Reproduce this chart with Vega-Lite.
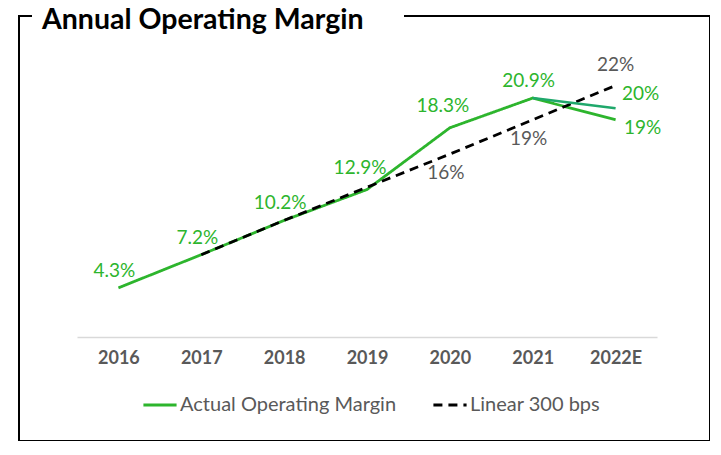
{
  "$schema": "https://vega.github.io/schema/vega-lite/v6.json",
  "autosize": {"type": "none"},
  "padding": {"left": 19, "top": 16, "right": 0, "bottom": 0},
  "width": 691,
  "height": 425,
  "background": "white",
  "title": {
    "text": "Annual Operating Margin",
    "anchor": "start",
    "frame": "group",
    "font": "Lato",
    "fontSize": 28.5,
    "fontWeight": "bold",
    "color": "black",
    "baseline": "alphabetic",
    "offset": 0,
    "dx": 23,
    "dy": 41
  },
  "config": {
    "font": "Lato",
    "view": {"stroke": "black", "strokeWidth": 2, "strokeDash": [13, 372, 3000, 0]}
  },
  "datasets": {
    "main": [
      {"year": "2016", "value": 4.3, "series": "Actual Operating Margin", "label": "4.3%"},
      {"year": "2017", "value": 7.2, "series": "Actual Operating Margin", "label": "7.2%"},
      {"year": "2018", "value": 10.2, "series": "Actual Operating Margin", "label": "10.2%"},
      {"year": "2019", "value": 12.9, "series": "Actual Operating Margin", "label": "12.9%"},
      {"year": "2020", "value": 18.3, "series": "Actual Operating Margin", "label": "18.3%"},
      {"year": "2021", "value": 20.9, "series": "Actual Operating Margin", "label": "20.9%"},
      {"year": "2022E", "value": 19, "series": "Actual Operating Margin", "label": "19%"},
      {"year": "2017", "value": 7.2, "series": "Linear 300 bps", "label": ""},
      {"year": "2018", "value": 10.2, "series": "Linear 300 bps", "label": ""},
      {"year": "2019", "value": 13.1, "series": "Linear 300 bps", "label": ""},
      {"year": "2020", "value": 16, "series": "Linear 300 bps", "label": "16%"},
      {"year": "2021", "value": 19, "series": "Linear 300 bps", "label": "19%"},
      {"year": "2022E", "value": 22, "series": "Linear 300 bps", "label": "22%"}
    ],
    "branch": [
      {"year": "2021", "value": 20.9, "label": ""},
      {"year": "2022E", "value": 20, "label": "20%"}
    ]
  },
  "encoding": {
    "x": {
      "field": "year",
      "type": "ordinal",
      "scale": {
        "type": "point",
        "domain": ["2016", "2017", "2018", "2019", "2020", "2021", "2022E"],
        "range": [58, 638],
        "padding": 0.5
      },
      "axis": {
        "orient": "bottom",
        "offset": -104,
        "title": null,
        "domainColor": "#d9d9d9",
        "domainWidth": 1.5,
        "ticks": false,
        "grid": false,
        "labelAngle": 0,
        "labelFont": "Lato",
        "labelFontSize": 18,
        "labelFontWeight": "bold",
        "labelColor": "#595959",
        "labelPadding": 12
      }
    },
    "y": {
      "field": "value",
      "type": "quantitative",
      "scale": {"domain": [-9.1, 28.08], "zero": false, "nice": false},
      "axis": null
    }
  },
  "layer": [
    {
      "data": {"name": "main"},
      "mark": {"type": "line", "strokeWidth": 2.8},
      "encoding": {
        "color": {
          "field": "series",
          "type": "nominal",
          "scale": {"domain": ["Actual Operating Margin", "Linear 300 bps"], "range": ["#2DB52D", "#000000"]},
          "legend": {
            "orient": "none",
            "legendX": 123,
            "legendY": 371,
            "direction": "horizontal",
            "title": null,
            "labelFont": "Lato",
            "labelFontSize": 20,
            "labelColor": "#595959",
            "labelLimit": 400,
            "symbolType": "stroke",
            "symbolSize": 1100,
            "symbolStrokeWidth": 2.8,
            "labelOffset": 2,
            "columnPadding": 30
          }
        },
        "strokeDash": {
          "field": "series",
          "type": "nominal",
          "scale": {"domain": ["Actual Operating Margin", "Linear 300 bps"], "range": [[1, 0], [9, 6]]},
          "legend": null
        }
      }
    },
    {
      "data": {"name": "branch"},
      "mark": {"type": "line", "strokeWidth": 2.5, "color": "#1FA86B"}
    },
    {
      "data": {"name": "main"},
      "transform": [{"filter": "datum.series == 'Actual Operating Margin' && indexof(['2016','2017','2018','2021'], datum.year) >= 0"}],
      "mark": {"type": "text", "fontSize": 19, "color": "#2DB52D", "dy": -17, "dx": -4, "baseline": "middle"},
      "encoding": {"text": {"field": "label"}}
    },
    {
      "data": {"name": "main"},
      "transform": [{"filter": "datum.series == 'Actual Operating Margin' && indexof(['2019','2020'], datum.year) >= 0"}],
      "mark": {"type": "text", "fontSize": 19, "color": "#2DB52D", "dy": -22, "dx": -7, "baseline": "middle"},
      "encoding": {"text": {"field": "label"}}
    },
    {
      "data": {"name": "main"},
      "transform": [{"filter": "datum.series == 'Actual Operating Margin' && datum.year == '2022E'"}],
      "mark": {"type": "text", "fontSize": 19, "color": "#2DB52D", "dy": 8, "dx": 27, "baseline": "middle"},
      "encoding": {"text": {"field": "label"}}
    },
    {
      "data": {"name": "branch"},
      "transform": [{"filter": "datum.year == '2022E'"}],
      "mark": {"type": "text", "fontSize": 19, "color": "#2DB52D", "dy": -14, "dx": 25, "baseline": "middle"},
      "encoding": {"text": {"field": "label"}}
    },
    {
      "data": {"name": "main"},
      "transform": [{"filter": "datum.series == 'Linear 300 bps' && indexof(['2020','2021'], datum.year) >= 0"}],
      "mark": {"type": "text", "fontSize": 19, "color": "#595959", "dy": 19, "dx": -4, "baseline": "middle"},
      "encoding": {"text": {"field": "label"}}
    },
    {
      "data": {"name": "main"},
      "transform": [{"filter": "datum.series == 'Linear 300 bps' && datum.year == '2022E'"}],
      "mark": {"type": "text", "fontSize": 19, "color": "#595959", "dy": -20, "dx": 0, "baseline": "middle"},
      "encoding": {"text": {"field": "label"}}
    }
  ]
}
